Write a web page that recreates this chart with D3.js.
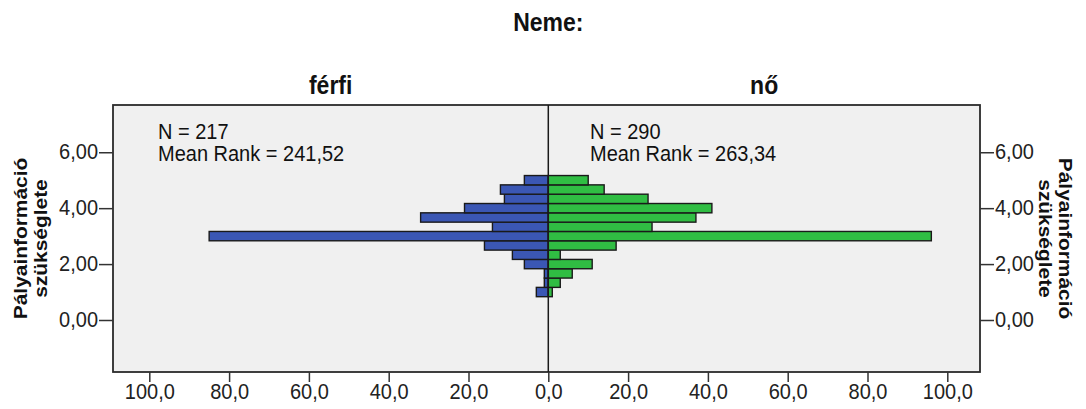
<!DOCTYPE html>
<html>
<head>
<meta charset="utf-8">
<script src="https://cdn.jsdelivr.net/npm/d3@7"></script>
<style>
  body { margin: 0; background: #fff; }
  svg { display: block; }
</style>
</head>
<body>
<div id="chart"></div>
<script>
"use strict";

// bins of the variable (1,00 .. 5,00 in thirds)
const binCenters = [1, 4/3, 5/3, 2, 7/3, 8/3, 3, 10/3, 11/3, 4, 13/3, 14/3, 5];
const maleCounts   = [3, 1, 1, 6, 9, 16, 85, 14, 32, 21, 11, 12, 6];
const femaleCounts = [1, 3, 6, 11, 3, 17, 96, 26, 37, 41, 25, 14, 10];
const xTickValues = [0, 20, 40, 60, 80, 100];
const yTickValues = [0, 2, 4, 6];
const groupLabels = ["férfi", "nő"];
const statLines = [["N = 217", "Mean Rank = 241,52"], ["N = 290", "Mean Rank = 263,34"]];

const W = 1086, H = 409;
const plot = { left: 113, right: 980, top: 105, bottom: 372 };
const cx = 548.3;
const pxPerUnit = 3.99;
const stretch = 1.1; // the reference text is a bit taller than wide

const hu = d3.formatLocale({ decimal: ",", thousands: " ", grouping: [3], currency: ["", ""] });
const fmtX = hu.format(".1f");
const fmtY = hu.format(".2f");

const svg = d3.select("#chart").append("svg")
  .attr("width", W)
  .attr("height", H)
  .style("font-family", "'Liberation Sans', Arial, sans-serif");

const xL = d3.scaleLinear().domain([0, (cx - plot.left) / pxPerUnit]).range([cx, plot.left]);
const xR = d3.scaleLinear().domain([0, (plot.right - cx) / pxPerUnit]).range([cx, plot.right]);
const y = d3.scaleLinear().domain([-1.86, 7.69]).range([plot.bottom, plot.top]);

// plot background
svg.append("rect")
  .attr("x", plot.left).attr("y", plot.top)
  .attr("width", plot.right - plot.left)
  .attr("height", plot.bottom - plot.top)
  .attr("fill", "#f0f0f0");

const half = 1 / 6;

// male bars
svg.selectAll("rect.male")
  .data(binCenters)
  .join("rect")
  .attr("class", "male")
  .attr("x", (d, i) => xL(maleCounts[i]))
  .attr("y", d => y(d + half))
  .attr("width", (d, i) => cx - xL(maleCounts[i]))
  .attr("height", d => y(d - half) - y(d + half))
  .attr("fill", "#3b57b4")
  .attr("stroke", "#1a1a1a")
  .attr("stroke-width", 1.4);

// female bars
svg.selectAll("rect.female")
  .data(binCenters)
  .join("rect")
  .attr("class", "female")
  .attr("x", cx)
  .attr("y", d => y(d + half))
  .attr("width", (d, i) => xR(femaleCounts[i]) - cx)
  .attr("height", d => y(d - half) - y(d + half))
  .attr("fill", "#30bd43")
  .attr("stroke", "#1a1a1a")
  .attr("stroke-width", 1.4);

// frame and centre line
svg.append("rect")
  .attr("x", plot.left).attr("y", plot.top)
  .attr("width", plot.right - plot.left)
  .attr("height", plot.bottom - plot.top)
  .attr("fill", "none")
  .attr("stroke", "#2a2a2a")
  .attr("stroke-width", 1.8);

svg.append("line")
  .attr("x1", cx).attr("x2", cx)
  .attr("y1", plot.top).attr("y2", plot.bottom)
  .attr("stroke", "#1a1a1a")
  .attr("stroke-width", 1.5);

// axes
function styleAxis(g) {
  g.select(".domain").remove();
  g.selectAll(".tick line").attr("stroke", "#333").attr("stroke-width", 1.5);
  g.selectAll(".tick text").attr("fill", "#222").style("font-size", "20px");
}

function stretchBottom(g) {
  g.selectAll(".tick text")
    .attr("y", 10)
    .attr("transform", `scale(1,${stretch})`);
}

function stretchSide(g) {
  g.selectAll(".tick text")
    .attr("dy", "0.3em")
    .attr("transform", `scale(1,${stretch})`);
}

svg.append("g")
  .attr("transform", `translate(0,${plot.bottom})`)
  .call(d3.axisBottom(xL).tickValues(xTickValues).tickSize(10).tickPadding(4).tickFormat(fmtX))
  .call(styleAxis)
  .call(stretchBottom);

svg.append("g")
  .attr("transform", `translate(0,${plot.bottom})`)
  .call(d3.axisBottom(xR).tickValues(xTickValues.slice(1)).tickSize(10).tickPadding(4).tickFormat(fmtX))
  .call(styleAxis)
  .call(stretchBottom);

svg.append("g")
  .attr("transform", `translate(${plot.left},0)`)
  .call(d3.axisLeft(y).tickValues(yTickValues).tickSize(14).tickPadding(1).tickFormat(fmtY))
  .call(styleAxis)
  .call(stretchSide);

svg.append("g")
  .attr("transform", `translate(${plot.right},0)`)
  .call(d3.axisRight(y).tickValues(yTickValues).tickSize(14).tickPadding(1).tickFormat(fmtY))
  .call(styleAxis)
  .call(stretchSide);

// text helper with the vertical stretch
function label(x, yPos, str, size, bold, anchor) {
  return svg.append("text")
    .attr("transform", `translate(${x},${yPos}) scale(1,${stretch})`)
    .attr("text-anchor", anchor || "start")
    .attr("fill", "#111")
    .style("font-size", size + "px")
    .style("font-weight", bold ? "bold" : "normal")
    .text(str);
}

// titles
label(cx, 31, "Neme:", 23, true, "middle");

const panelCenters = [(plot.left + cx) / 2, (cx + plot.right) / 2];
groupLabels.forEach((g, i) => label(panelCenters[i], 94, g, 23, true, "middle"));

// stats
const statX = [158, 590];
statLines.forEach((lines, i) => {
  lines.forEach((t, j) => label(statX[i], 139 + j * 22, t, 20, false));
});

// y axis titles
const midY = (plot.top + plot.bottom) / 2;
const yTitle = ["Pályainformáció", "szükséglete"];
[27, 47].forEach((xp, j) => {
  svg.append("text")
    .attr("transform", `translate(${xp},${midY}) scale(1,${stretch}) rotate(-90)`)
    .attr("text-anchor", "middle")
    .attr("fill", "#111")
    .style("font-size", "19px").style("font-weight", "bold")
    .text(yTitle[j]);
});
[1059, 1039].forEach((xp, j) => {
  svg.append("text")
    .attr("transform", `translate(${xp},${midY}) scale(1,${stretch}) rotate(90)`)
    .attr("text-anchor", "middle")
    .attr("fill", "#111")
    .style("font-size", "19px").style("font-weight", "bold")
    .text(yTitle[j]);
});
</script>
</body>
</html>
